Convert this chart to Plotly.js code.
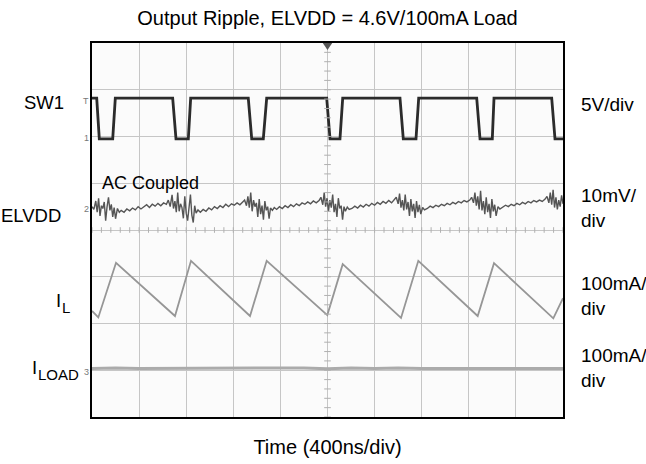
<!DOCTYPE html>
<html>
<head>
<meta charset="utf-8">
<script src="https://cdn.plot.ly/plotly-3.0.1.min.js"></script>
<style>
html,body{margin:0;padding:0;background:#fff;}
#chart{width:646px;height:464px;}
</style>
</head>
<body>
<div id="chart"></div>
<script>
// Time axis in divisions (400 ns/div), vertical axis in screen divisions
var sw1X = [0, 0.10, 0.155, 0.44, 0.495, 1.713, 1.783, 2.045, 2.095, 3.318, 3.391, 3.637, 3.709, 4.983, 5.053, 5.265, 5.323, 6.539, 6.609, 6.879, 6.936, 8.168, 8.238, 8.499, 8.535, 9.760, 9.830, 10];
var sw1Y = [6.82, 6.82, 5.95, 5.95, 6.82, 6.82, 5.95, 5.95, 6.82, 6.82, 5.95, 5.95, 6.82, 6.82, 5.95, 5.95, 6.82, 6.82, 5.95, 5.95, 6.82, 6.82, 5.95, 5.95, 6.82, 6.82, 5.95, 5.95];

var elvddX = [0.00,0.04,0.08,0.11,0.14,0.17,0.20,0.23,0.26,0.29,0.32,0.35,0.38,0.41,0.44,0.47,0.50,0.54,0.58,
 0.62,0.68,0.74,0.80,0.86,0.92,0.98,1.04,1.10,1.16,1.22,1.28,1.34,1.40,1.46,1.52,1.58,
 1.62,1.66,1.70,1.73,1.76,1.79,1.82,1.85,1.88,1.91,1.94,1.97,2.00,2.03,2.06,2.09,2.12,2.15,2.18,2.21,2.25,
 2.30,2.36,2.42,2.48,2.54,2.60,2.66,2.72,2.78,2.84,2.90,2.96,3.02,3.08,3.14,3.20,
 3.24,3.28,3.31,3.34,3.37,3.40,3.43,3.46,3.49,3.52,3.55,3.58,3.61,3.64,3.67,3.70,3.73,3.76,3.79,3.83,3.87,
 3.92,3.98,4.04,4.10,4.16,4.22,4.28,4.34,4.40,4.46,4.52,4.58,4.64,4.70,4.76,4.82,
 4.86,4.90,4.93,4.96,4.99,5.02,5.05,5.08,5.11,5.14,5.17,5.20,5.23,5.26,5.29,5.32,5.35,5.38,5.42,5.46,
 5.52,5.58,5.64,5.70,5.76,5.82,5.88,5.94,6.00,6.06,6.12,6.18,6.24,6.30,6.36,6.42,
 6.46,6.50,6.53,6.56,6.59,6.62,6.65,6.68,6.71,6.74,6.77,6.80,6.83,6.86,6.89,6.92,6.95,6.98,7.02,7.06,
 7.12,7.18,7.24,7.30,7.36,7.42,7.48,7.54,7.60,7.66,7.72,7.78,7.84,7.90,7.96,8.02,
 8.06,8.10,8.13,8.16,8.19,8.22,8.25,8.28,8.31,8.34,8.37,8.40,8.43,8.46,8.49,8.52,8.55,8.58,8.62,8.66,
 8.72,8.78,8.84,8.90,8.96,9.02,9.08,9.14,9.20,9.26,9.32,9.38,9.44,9.50,9.56,9.62,
 9.66,9.70,9.73,9.76,9.79,9.82,9.85,9.88,9.91,9.94,9.97,10.00];
var elvddY = [4.50,4.44,4.62,4.38,4.68,4.30,4.52,4.46,4.60,4.20,4.50,4.70,4.42,4.55,4.28,4.48,4.24,4.46,4.38,
 4.42,4.38,4.45,4.41,4.47,4.43,4.50,4.45,4.49,4.54,4.48,4.55,4.51,4.57,4.52,4.58,4.55,
 4.64,4.50,4.75,4.46,4.62,4.38,4.80,4.40,4.56,4.48,4.25,4.72,4.36,4.20,4.58,4.76,4.32,4.16,4.52,4.36,4.43,
 4.38,4.44,4.40,4.47,4.43,4.50,4.46,4.52,4.48,4.55,4.50,4.56,4.53,4.58,4.54,4.60,
 4.64,4.52,4.72,4.48,4.80,4.40,4.64,4.50,4.58,4.28,4.66,4.34,4.52,4.22,4.62,4.42,4.50,4.24,4.47,4.42,4.48,
 4.44,4.50,4.46,4.52,4.48,4.54,4.50,4.56,4.52,4.58,4.55,4.60,4.56,4.62,4.58,4.63,
 4.70,4.54,4.80,4.50,4.68,4.40,4.64,4.48,4.76,4.38,4.56,4.28,4.68,4.46,4.52,4.22,4.50,4.40,4.49,4.44,
 4.46,4.51,4.47,4.53,4.49,4.55,4.51,4.57,4.53,4.59,4.55,4.61,4.57,4.63,4.58,4.64,
 4.70,4.56,4.78,4.48,4.64,4.42,4.76,4.44,4.60,4.30,4.66,4.40,4.56,4.26,4.62,4.38,4.54,4.34,4.48,4.43,
 4.46,4.51,4.48,4.53,4.50,4.55,4.52,4.57,4.54,4.59,4.56,4.61,4.58,4.63,4.60,4.64,
 4.70,4.58,4.80,4.52,4.72,4.44,4.84,4.42,4.62,4.34,4.70,4.38,4.56,4.26,4.66,4.40,4.54,4.30,4.50,4.45,
 4.49,4.53,4.50,4.55,4.52,4.57,4.54,4.59,4.56,4.61,4.58,4.63,4.60,4.64,4.61,4.66,
 4.72,4.58,4.80,4.54,4.86,4.48,4.70,4.44,4.64,4.50,4.74,4.56];

var ilX = [0, 0.134, 0.510, 1.762, 2.102, 3.355, 3.709, 4.996, 5.323, 6.561, 6.928, 8.189, 8.535, 9.794, 10];
var ilY = [2.27, 2.13, 3.30, 2.16, 3.34, 2.16, 3.34, 2.18, 3.27, 2.12, 3.34, 2.16, 3.29, 2.11, 2.54];

var iloadX = [0, 0.5, 1.0, 1.5, 2.0, 2.5, 3.0, 3.5, 4.0, 4.5, 5.0, 5.5, 6.0, 6.5, 7.0, 7.5, 8.0, 8.5, 9.0, 9.5, 10];
var iloadY = [1.04, 1.05, 1.04, 1.04, 1.05, 1.04, 1.05, 1.04, 1.04, 1.05, 1.03, 1.05, 1.04, 1.05, 1.04, 1.04, 1.05, 1.04, 1.05, 1.04, 1.04];

var titleText = 'Output Ripple, ELVDD = 4.6V/100mA Load';
var xTitle = 'Time (400ns/div)';
var leftLabels = ['SW1', 'ELVDD', 'I', 'I'];
var leftLabelY = [6.72, 4.30, 2.50, 1.06];
var leftSubs = ['', '', 'L', 'LOAD'];
var rightLabels = ['5V/div', '10mV/<br>div', '100mA/<br>div', '100mA/<br>div'];
var rightLabelY = [6.68, 4.48, 2.58, 1.04];

var FONT = 'Liberation Sans, Arial, sans-serif';

var traces = [
  {x: iloadX, y: iloadY, mode: 'lines', line: {color: '#ababab', width: 3}, hoverinfo: 'skip'},
  {x: ilX, y: ilY, mode: 'lines', line: {color: '#969696', width: 1.8}, hoverinfo: 'skip'},
  {x: elvddX, y: elvddY, mode: 'lines', line: {color: '#555555', width: 1.4}, hoverinfo: 'skip'},
  {x: sw1X, y: sw1Y, mode: 'lines', line: {color: '#2b2b2b', width: 2.8}, hoverinfo: 'skip'}
];

var shapes = [];
// minor ticks on centre lines (decoration)
for (var i = 0; i <= 50; i++) {
  var t = i * 0.2;
  shapes.push({type: 'line', xref: 'x', yref: 'y', x0: t, x1: t, y0: 3.94, y1: 4.06, line: {color: '#b0b0b0', width: 1}});
}
for (var j = 0; j <= 40; j++) {
  var u = j * 0.2;
  shapes.push({type: 'line', xref: 'x', yref: 'y', x0: 4.93, x1: 5.07, y0: u, y1: u, line: {color: '#b0b0b0', width: 1}});
}
// trigger marker at top centre
shapes.push({type: 'path', xref: 'x', yref: 'y', path: 'M 4.9 8 L 5.1 8 L 5 7.85 Z', fillcolor: '#555', line: {width: 0}});

var annotations = [];
// right edge of each main left label, in pixels from the left of the figure
var leftPx = [65, 62, 62, 38];
for (var k = 0; k < leftLabels.length; k++) {
  annotations.push({xref: 'paper', yref: 'y', x: (leftPx[k] - 92) / 471, y: leftLabelY[k], text: leftLabels[k], borderpad: 0,
    xanchor: 'right', yanchor: 'middle', showarrow: false, font: {family: FONT, size: 18.5, color: '#000'}});
  if (leftSubs[k]) {
    annotations.push({xref: 'paper', yref: 'y', x: (leftPx[k] - 93) / 471, y: leftLabelY[k] - 0.15, text: leftSubs[k], borderpad: 0,
      xanchor: 'left', yanchor: 'middle', showarrow: false, font: {family: FONT, size: 15, color: '#000'}});
  }
  annotations.push({xref: 'paper', yref: 'y', x: 1.035, y: rightLabelY[k], text: rightLabels[k],
    xanchor: 'left', yanchor: 'middle', align: 'left', showarrow: false, font: {family: FONT, size: 19, color: '#000'}});
}
annotations.push({xref: 'x', yref: 'y', x: 0.18, y: 5.0, text: 'AC Coupled', xanchor: 'left', yanchor: 'middle',
  showarrow: false, font: {family: FONT, size: 18, color: '#000'}});
// channel markers
var chText = ['T', '1', '2', '3'];
var chY = [6.75, 5.97, 4.45, 0.97];
for (var m = 0; m < chText.length; m++) {
  annotations.push({xref: 'paper', yref: 'y', x: -0.004, y: chY[m], text: chText[m], xanchor: 'right', yanchor: 'middle', borderpad: 0,
    showarrow: false, font: {family: FONT, size: 9, color: '#777'}});
}

var layout = {
  width: 646, height: 464,
  margin: {l: 92, r: 83, t: 43, b: 47, pad: 0},
  paper_bgcolor: '#ffffff',
  plot_bgcolor: '#fbfbfb',
  showlegend: false,
  title: {text: titleText, x: 0.5, xref: 'paper', xanchor: 'center', y: 0.962, yanchor: 'middle', yref: 'container',
    font: {family: FONT, size: 20, color: '#000'}},
  xaxis: {range: [0, 10], dtick: 1, tick0: 0, showticklabels: false, ticks: '', showgrid: true, gridcolor: '#c6c6c6', gridwidth: 1,
    zeroline: false, showline: true, mirror: true, linecolor: '#000', linewidth: 2, fixedrange: true,
    title: {text: xTitle, standoff: 22, font: {family: FONT, size: 20, color: '#000'}}},
  yaxis: {range: [0, 8], dtick: 1, tick0: 0, showticklabels: false, ticks: '', showgrid: true, gridcolor: '#c6c6c6', gridwidth: 1,
    zeroline: false, showline: true, mirror: true, linecolor: '#000', linewidth: 2, fixedrange: true},
  shapes: shapes,
  annotations: annotations
};

Plotly.newPlot('chart', traces, layout, {displayModeBar: false, staticPlot: true});
</script>
</body>
</html>
